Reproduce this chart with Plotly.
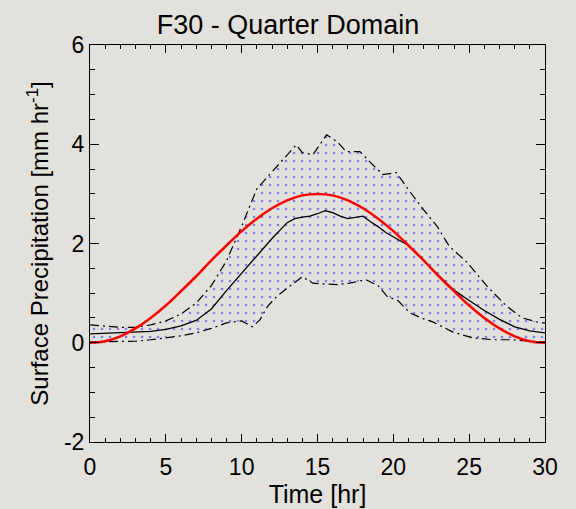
import plotly.graph_objects as go

# ---- data ----
red_t = list(range(0, 31))
red_v = [0.00, 0.03, 0.13, 0.29, 0.50, 0.75, 1.04, 1.34, 1.66, 1.96, 2.25, 2.50, 2.71, 2.87, 2.97, 3.00,
         2.97, 2.87, 2.71, 2.50, 2.25, 1.96, 1.66, 1.34, 1.04, 0.75, 0.50, 0.29, 0.13, 0.03, 0.00]

mean_t = [0, 1, 2, 3, 4, 5, 6, 7, 8, 9, 10, 11, 12, 13, 13.5, 14, 14.5, 15, 15.5, 16, 16.5, 17, 17.5,
          18, 18.5, 19, 19.5, 20, 20.5, 21, 21.5, 22, 22.5, 23, 24, 25, 26, 27, 28, 29, 30]
mean_v = [0.18, 0.19, 0.20, 0.21, 0.23, 0.27, 0.34, 0.45, 0.68, 1.05, 1.40, 1.73, 2.10, 2.42, 2.50,
          2.53, 2.55, 2.60, 2.66, 2.62, 2.55, 2.50, 2.52, 2.55, 2.44, 2.34, 2.22, 2.13, 2.04, 1.96,
          1.80, 1.65, 1.50, 1.37, 1.06, 0.85, 0.65, 0.47, 0.32, 0.24, 0.20]

up_t = [0, 1, 2, 3, 4, 5, 6, 7, 8, 9, 10, 11, 12, 12.7, 13.6, 14, 14.7, 15.6, 16.3, 16.9, 17.8,
        18.5, 19.3, 20.2, 21.1, 22, 22.9, 23.7, 24.9, 26.2, 27.5, 28.5, 29.7, 30]
up_v = [0.36, 0.33, 0.31, 0.31, 0.36, 0.44, 0.58, 0.80, 1.15, 1.65, 2.35, 3.10, 3.45, 3.69, 3.99,
        3.83, 3.79, 4.19, 4.05, 3.85, 3.85, 3.63, 3.39, 3.43, 3.04, 2.68, 2.34, 1.94, 1.61, 1.13,
        0.73, 0.50, 0.40, 0.40]

lo_t = [0, 1, 2, 3, 4, 5, 6, 7, 8, 9, 10, 10.7, 11.2, 11.7, 12.3, 13, 14, 14.7, 15.5, 16.3, 17.1,
        18.2, 19, 19.6, 20.3, 21.1, 22, 22.6, 23.9, 25.2, 26.6, 27.9, 29, 30]
lo_v = [0.02, 0.02, 0.02, 0.03, 0.06, 0.10, 0.14, 0.20, 0.29, 0.40, 0.44, 0.32, 0.46, 0.73, 0.93,
        1.10, 1.33, 1.20, 1.18, 1.17, 1.20, 1.27, 1.15, 0.93, 0.85, 0.60, 0.48, 0.42, 0.22, 0.10,
        0.06, 0.06, 0.03, 0.02]

x_ticks = [0, 5, 10, 15, 20, 25, 30]
x_labels = ["0", "5", "10", "15", "20", "25", "30"]
y_ticks = [-2, 0, 2, 4, 6]
y_labels = ["-2", "0", "2", "4", "6"]

FONT = "Liberation Sans, Arial, Helvetica, sans-serif"
BG = "#e3e1db"
DASHDOT = "9px,4px,2px,4px"

fig = go.Figure()

# shaded band (dotted pattern) between envelopes
fig.add_trace(go.Scatter(
    x=up_t + lo_t[::-1], y=up_v + lo_v[::-1],
    mode="lines", line=dict(width=0), fill="toself",
    fillcolor="rgba(0,0,0,0)",
    fillpattern=dict(shape=".", fgcolor="#2020ff", bgcolor="rgba(0,0,0,0)",
                     size=8, solidity=0.09),
    hoverinfo="skip", showlegend=False))

fig.add_trace(go.Scatter(x=up_t, y=up_v, mode="lines",
                         line=dict(color="black", width=1.2, dash=DASHDOT), showlegend=False))
fig.add_trace(go.Scatter(x=lo_t, y=lo_v, mode="lines",
                         line=dict(color="black", width=1.2, dash=DASHDOT), showlegend=False))
fig.add_trace(go.Scatter(x=mean_t, y=mean_v, mode="lines",
                         line=dict(color="black", width=1.3), showlegend=False))
fig.add_trace(go.Scatter(x=red_t, y=red_v, mode="lines", line_shape="spline",
                         line=dict(color="#ff0000", width=2.5), showlegend=False))

axis_common = dict(
    showgrid=False, zeroline=False, showline=True, linecolor="black", linewidth=1,
    mirror="ticks", ticks="inside", tickcolor="black", tickwidth=1,
    tickfont=dict(family=FONT, size=23, color="black"),
)

fig.update_xaxes(
    range=[0, 30], tickvals=x_ticks, ticktext=x_labels, ticklen=8, ticklabelstandoff=4,
    minor=dict(dtick=1, ticks="inside", ticklen=4, tickcolor="black", tickwidth=1),
    title=dict(text="Time [hr]", font=dict(family=FONT, size=25, color="black"), standoff=0),
    **axis_common)
fig.update_yaxes(
    range=[-2, 6], tickvals=y_ticks, ticktext=y_labels, ticklen=9,
    minor=dict(dtick=0.5, ticks="inside", ticklen=5, tickcolor="black", tickwidth=1),
    title=dict(text="Surface Precipitation [mm hr<sup>-1</sup>]",
               font=dict(family=FONT, size=24, color="black"), standoff=8),
    **axis_common)

fig.update_layout(
    width=576, height=509,
    margin=dict(l=90, r=31, t=45, b=67),
    paper_bgcolor=BG, plot_bgcolor=BG,
    title=dict(text="F30 - Quarter Domain", x=0.5, xanchor="center", y=0.952, yanchor="middle",
               font=dict(family=FONT, size=27, color="black")),
    showlegend=False,
)

fig.write_html("out.html")
